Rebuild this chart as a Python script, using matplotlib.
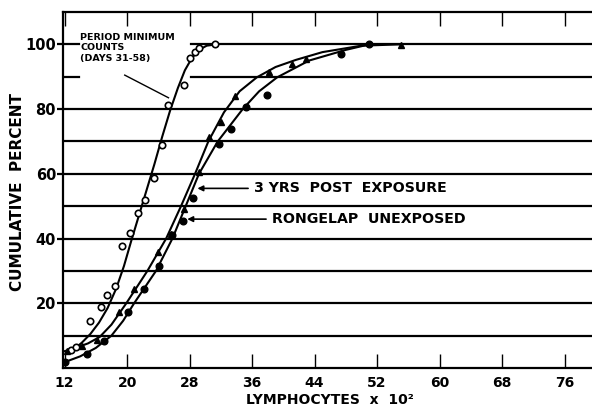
import numpy as np
import matplotlib.pyplot as plt

# points
# period minimum counts (days 31-58), open circles
min_x = [12.8, 13.4, 15.3, 16.7, 17.4, 18.5, 19.4, 20.4, 21.4, 22.3, 23.4, 24.5, 25.2, 27.3, 28.1, 28.7, 29.2, 31.3]
min_y = [5.5, 6.5, 14.5, 18.8, 22.5, 25.3, 37.7, 41.7, 47.8, 52.0, 58.6, 68.8, 81.2, 87.3, 95.7, 97.5, 98.8, 100.0]
# 3 yrs post exposure, small filled triangles
post_x = [12.3, 14.2, 16.1, 19.0, 20.9, 23.9, 25.6, 27.3, 29.2, 30.5, 32.0, 33.8, 38.2, 41.1, 42.9, 55.0]
post_y = [5.3, 6.8, 8.6, 17.3, 24.4, 35.8, 41.4, 49.0, 60.5, 71.3, 76.0, 84.0, 91.4, 93.8, 95.4, 99.7]
# rongelap unexposed, filled circles
unexp_x = [12.0, 14.9, 17.1, 20.1, 22.2, 24.1, 25.8, 27.1, 28.4, 31.8, 33.3, 35.2, 37.9, 47.4, 51.0]
unexp_y = [2.0, 4.3, 8.4, 17.3, 24.4, 31.5, 41.0, 45.4, 52.5, 69.1, 73.8, 80.6, 84.5, 97.0, 100.0]

# hand drawn curves
min_cx = [12.3, 13.2, 14.2, 15.3, 16.4, 17.5, 18.6, 19.6, 20.5, 21.5, 22.5, 23.5, 24.5, 25.5, 26.5, 27.4, 28.3, 29.2, 30.2, 31.5]
min_cy = [4.5, 5.8, 7.8, 10.5, 14.0, 18.5, 24.5, 31.5, 39.0, 47.0, 55.0, 63.0, 71.5, 79.5, 86.5, 92.0, 95.8, 98.3, 99.6, 100.0]
post_cx = [12.0, 13.5, 15.0, 16.5, 18.0, 19.9, 22.6, 25.0, 26.9, 28.7, 30.4, 32.4, 34.4, 36.6, 39.0, 41.6, 45.0, 50.0, 55.0]
post_cy = [5.2, 6.3, 7.6, 9.6, 13.4, 20.0, 30.0, 40.0, 50.0, 60.0, 70.0, 79.0, 85.5, 89.8, 93.0, 95.2, 97.6, 99.6, 100.0]
unexp_cx = [12.0, 14.0, 16.0, 18.0, 19.5, 20.9, 23.7, 25.8, 27.5, 29.2, 31.6, 34.8, 36.9, 39.2, 43.3, 48.0, 51.0]
unexp_cy = [1.8, 3.6, 6.2, 10.0, 14.6, 20.0, 30.0, 40.0, 50.0, 60.0, 70.0, 80.0, 85.5, 89.8, 95.0, 98.3, 100.0]

xticks = [12, 20, 28, 36, 44, 52, 60, 68, 76]
yticks = [20, 40, 60, 80, 100]
grid_y = [10, 20, 30, 40, 50, 60, 70, 80, 90, 100]

plt.rcParams['font.family'] = ['DejaVu Sans']
plt.rcParams['font.weight'] = 'bold'

fig = plt.figure(figsize=(5.92, 4.13), dpi=100)
ax = fig.add_axes([63 / 592, 45 / 413, 529 / 592, 356 / 413])
ax.set_xlim(11.8, 79.5)
ax.set_ylim(0, 110)

# horizontal rules, the top two are broken where the note sits
for g in grid_y:
    if g in (90, 100):
        ax.plot([11.8, 13.8], [g, g], color='black', lw=1.6, zorder=1)
        ax.plot([28.2, 79.5], [g, g], color='black', lw=1.6, zorder=1)
    else:
        ax.axhline(g, color='black', lw=1.6, zorder=1)

ax.plot(min_cx, min_cy, color='black', lw=1.5, zorder=2)
ax.plot(post_cx, post_cy, color='black', lw=1.5, zorder=2)
ax.plot(unexp_cx, unexp_cy, color='black', lw=1.5, zorder=2)

ax.plot(min_x, min_y, 'o', ms=4.6, mfc='white', mec='black', mew=1.2, zorder=3)
ax.plot(post_x, post_y, '^', ms=4.5, color='black', zorder=3)
ax.plot(unexp_x, unexp_y, 'o', ms=4.8, color='black', zorder=3)

# notes and pointers
ax.text(14.0, 103.6, 'PERIOD MINIMUM\nCOUNTS\n(DAYS 31-58)', fontsize=6.8, fontweight='bold',
        va='top', ha='left', linespacing=1.25)
ax.plot([19.7, 25.3], [90.5, 83.5], color='black', lw=1.0)
ax.annotate('3 YRS  POST  EXPOSURE', xy=(29.0, 55.5), xytext=(36.2, 55.5),
            fontsize=10.2, fontweight='bold', va='center', ha='left',
            arrowprops=dict(arrowstyle='-|>', color='black', lw=1.2, mutation_scale=8, shrinkA=2, shrinkB=0))
ax.annotate('RONGELAP  UNEXPOSED', xy=(27.7, 46.0), xytext=(38.5, 46.0),
            fontsize=10.2, fontweight='bold', va='center', ha='left',
            arrowprops=dict(arrowstyle='-|>', color='black', lw=1.2, mutation_scale=8, shrinkA=2, shrinkB=0))

ax.set_xticks(xticks)
ax.set_xticklabels([str(t) for t in xticks])
ax.set_yticks(yticks)
ax.set_yticklabels([str(t) for t in yticks])
ax.tick_params(axis='x', direction='in', length=10, width=1.0, top=True, labelsize=10, pad=6)
ax.tick_params(axis='y', direction='out', length=4, width=1.6, labelsize=10.5, pad=1)
ax.spines['right'].set_visible(False)
for s in ['left', 'bottom', 'top']:
    ax.spines[s].set_linewidth(1.6)

fig.text(18 / 592, 1 - 192 / 413, 'CUMULATIVE  PERCENT', rotation=90, fontsize=11,
         fontweight='bold', ha='center', va='center')
fig.text(330 / 592, 1 - 400 / 413, 'LYMPHOCYTES  x  10²', fontsize=10,
         fontweight='bold', ha='center', va='center')

fig.savefig('out.png', dpi=100)
